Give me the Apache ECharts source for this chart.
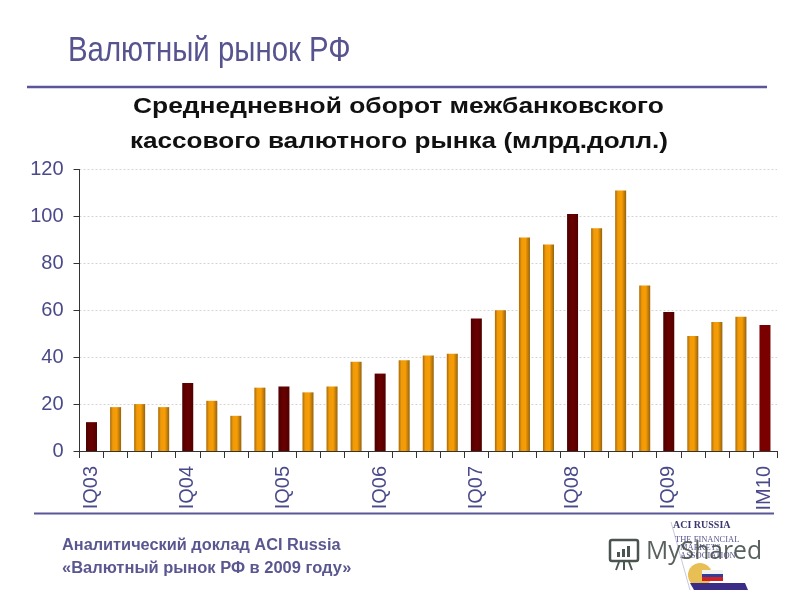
<!DOCTYPE html>
<html><head><meta charset="utf-8">
<script src="https://cdn.jsdelivr.net/npm/echarts@6/dist/echarts.min.js"></script>
<style>html,body{margin:0;padding:0;background:#fff}#c{width:800px;height:600px}</style></head>
<body><div id="c"></div>
<script>
const categories = ['IQ03','','','','IQ04','','','','IQ05','','','','IQ06','','','','IQ07','','','','IQ08','','','','IQ09','','','','IM10'];
const values = [12.3,18.7,20,18.7,29,21.4,15,27,27.5,25,27.5,38,33,38.7,40.7,41.5,56.5,60,91,88,101,95,111,70.5,59.3,49,55,57.2,53.7];
const titleMain = 'Валютный рынок РФ';
const chartTitle = ['Среднедневной оборот межбанковского','кассового валютного рынка (млрд.долл.)'];
const footer = ['Аналитический доклад ACI Russia','«Валютный рынок РФ в 2009 году»'];
const yTicks = [0,20,40,60,80,100,120];

const orange = {type:'linear',x:0,y:0,x2:1,y2:0,colorStops:[{offset:0,color:'#a86a08'},{offset:.25,color:'#f09a08'},{offset:.6,color:'#f79d05'},{offset:1,color:'#96620c'}]};
const dark = {type:'linear',x:0,y:0,x2:1,y2:0,colorStops:[{offset:0,color:'#4e0000'},{offset:.5,color:'#6a0000'},{offset:1,color:'#520000'}]};
const chart = echarts.init(document.getElementById('c'),null,{renderer:'canvas'});
const T = (x,y,text,font,fill,sx)=>({type:'text',x,y,scaleX:sx||1,style:{text,font,fill}});
chart.setOption({
  animation:false,
  backgroundColor:'#fff',
  grid:{left:79.5,right:23,top:169.5,bottom:149},
  xAxis:{type:'category',data:categories,
    axisLine:{lineStyle:{color:'#333',width:1}},
    axisTick:{show:true,alignWithLabel:false,interval:0,length:7,lineStyle:{color:'#333'}},
    axisLabel:{interval:0,rotate:90,margin:15,fontFamily:'Liberation Sans',fontSize:20,color:'#4a4a8a'}},
  yAxis:{type:'value',min:0,max:120,interval:20,
    axisLine:{show:true,lineStyle:{color:'#333',width:1}},
    axisTick:{show:true,length:6,lineStyle:{color:'#333'}},
    axisLabel:{margin:16,fontFamily:'Liberation Sans',fontSize:20,color:'#4a4a8a',
      formatter:v=>yTicks.includes(v)?String(v):''},
    splitLine:{show:true,lineStyle:{color:'#d4d4d4',type:[2,2],width:1}}},
  series:[{type:'bar',barWidth:11,
    data:values.map((v,i)=>({value:v,itemStyle:{color:i===28?'#7a0000':(i%4===0?dark:orange)}}))}],
  graphic:{elements:[
    T(68,33.5,titleMain,'35px "Liberation Sans"','#56538f',0.84),
    {type:'line',shape:{x1:27,y1:87,x2:767,y2:87},style:{stroke:'#5a5699',lineWidth:2.5}},
    T(133,95,chartTitle[0],'bold 22.5px "Liberation Sans"','#111',1.172),
    T(130,130,chartTitle[1],'bold 22.5px "Liberation Sans"','#111',1.16),
    {type:'line',shape:{x1:34,y1:513.5,x2:774,y2:513.5},style:{stroke:'#5a5699',lineWidth:2}},
    T(62,538,footer[0],'bold 16px "Liberation Sans"','#5a5790',1.02),
    T(62,561,footer[1],'bold 16px "Liberation Sans"','#5a5790',1.03),
    {type:'line',shape:{x1:671,y1:522,x2:690,y2:590},style:{stroke:'#c9c9dc',lineWidth:1}},
    T(673,520,'ACI RUSSIA','bold 10px "Liberation Serif"','#3b3470'),
    T(675,535,'THE FINANCIAL','8.5px "Liberation Serif"','#5a5790'),
    T(680,543,'MARKETS','8.5px "Liberation Serif"','#5a5790'),
    T(680,551,'ASSOCIATION','8.5px "Liberation Serif"','#5a5790'),
    {type:'circle',shape:{cx:700,cy:575,r:12},style:{fill:'#e8bf55'}},
    {type:'rect',shape:{x:702,y:570,width:21,height:4},style:{fill:'#f2f2f2'}},
    {type:'rect',shape:{x:702,y:574,width:21,height:3},style:{fill:'#2c3f9c'}},
    {type:'rect',shape:{x:702,y:577,width:21,height:4},style:{fill:'#d42020'}},
    {type:'polygon',shape:{points:[[690,583],[745,583],[748,590],[694,590]]},style:{fill:'#3b2d85'}},
    T(646,539,'MyShared','26px "Open Sans"','rgba(70,80,75,.9)',0.95),
    {type:'rect',shape:{x:610,y:540,width:28,height:21,r:2},style:{fill:'none',stroke:'#4a5550',lineWidth:2.5}},
    {type:'rect',shape:{x:617,y:552,width:3,height:5},style:{fill:'#4a5550'}},
    {type:'rect',shape:{x:622,y:549,width:3,height:8},style:{fill:'#4a5550'}},
    {type:'rect',shape:{x:627,y:546,width:3,height:11},style:{fill:'#4a5550'}},
    {type:'line',shape:{x1:619,y1:562,x2:616,y2:570},style:{stroke:'#4a5550',lineWidth:2}},
    {type:'line',shape:{x1:629,y1:562,x2:632,y2:570},style:{stroke:'#4a5550',lineWidth:2}},
    {type:'line',shape:{x1:624,y1:562,x2:624,y2:570},style:{stroke:'#4a5550',lineWidth:2}}
  ]}
});
</script></body></html>
